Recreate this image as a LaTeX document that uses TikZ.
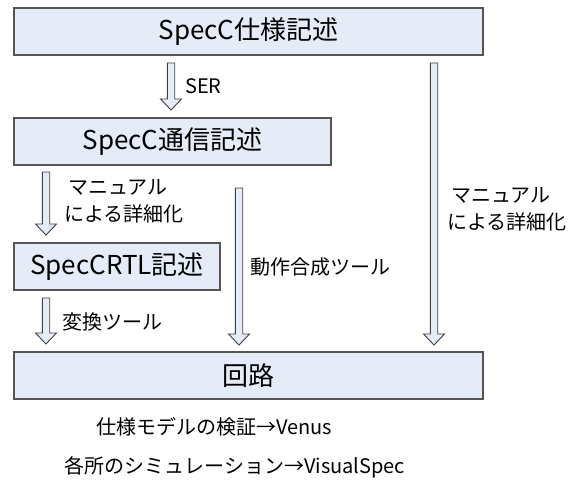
\documentclass[tikz,border=0pt]{standalone}
\usepackage{fontspec}
\setmainfont{Noto Sans CJK JP}
\usetikzlibrary{calc}
\definecolor{boxfill}{HTML}{E6ECF7}
\definecolor{boxline}{HTML}{555555}
\tikzset{
  box/.style={draw=boxline, line width=1.3pt, fill=boxfill, minimum height=47pt, inner sep=0pt, font=\fontsize{26}{30}\selectfont},
  barrow/.style={draw=black!75, line width=0.9pt, fill=boxfill, line join=miter},
  lbl/.style={anchor=west, inner sep=0pt, font=\fontsize{20}{27}\selectfont, align=left},
  note/.style={inner sep=0pt, font=\fontsize{20}{24}\selectfont}
}
\newcommand\blockarrow[2]{%
  \draw[barrow] let \p1=(#1), \p2=(#2) in
    (\x1-3.7pt,\y1) -- (\x1+3.7pt,\y1) -- (\x1+3.7pt,\y2+11pt) -- (\x1+10.5pt,\y2+11pt)
    -- (\x1,\y2) -- (\x1-10.5pt,\y2+11pt) -- (\x1-3.7pt,\y2+11pt) -- cycle;}
\begin{document}
\begin{tikzpicture}[x=1pt,y=-1pt]
\useasboundingbox (0,0) rectangle (572,484);
\node[box, minimum width=469pt] (b1) at (248.5,31.5) {SpecC仕様記述};
\node[box, minimum width=317pt] (b2) at (172.5,141.5) {SpecC通信記述};
\node[box, minimum width=206pt] (b3) at (117,266.5) {SpecCRTL記述};
\node[box, minimum width=469pt] (b4) at (248.5,375.5) {回路};

\coordinate (a1s) at (171,63);  \coordinate (a1e) at (171,110);
\coordinate (a2s) at (46,172);  \coordinate (a2e) at (46,235);
\coordinate (a3s) at (46,298);  \coordinate (a3e) at (46,344);
\coordinate (a4s) at (239,188); \coordinate (a4e) at (239,345);
\coordinate (a5s) at (434,63);  \coordinate (a5e) at (434,345);
\blockarrow{a1s}{a1e}
\blockarrow{a2s}{a2e}
\blockarrow{a3s}{a3e}
\blockarrow{a4s}{a4e}
\blockarrow{a5s}{a5e}

\node[lbl] (l1) at (185,86) {SER};
\node[lbl] (l2) at (64,201) {\hspace*{4pt}マニュアル\\による詳細化};
\node[lbl] (l3) at (62,322) {変換ツール};
\node[lbl] (l4) at (250,267) {動作合成ツール};
\node[lbl] (l5) at (447,209) {\hspace*{4pt}マニュアル\\による詳細化};

\node[note] (n1) at (214,427) {仕様モデルの検証→Venus};
\node[note] (n2) at (235,467) {各所のシミュレーション→VisualSpec};
\end{tikzpicture}
\end{document}
